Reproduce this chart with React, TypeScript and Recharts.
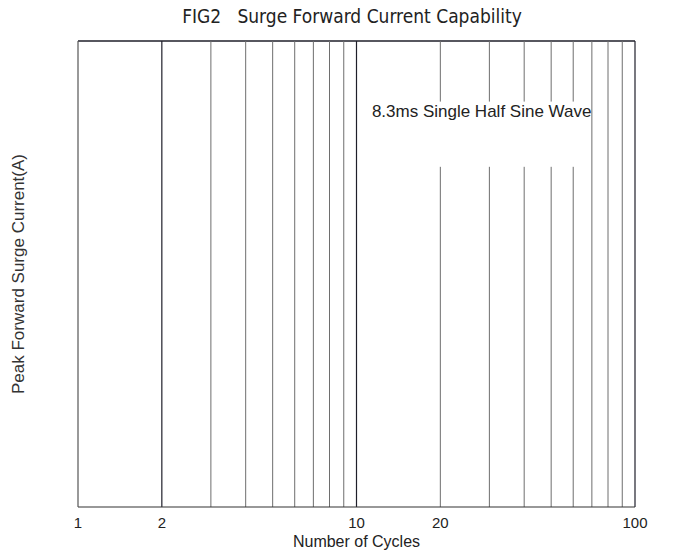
import React from 'react';
import { ComposedChart, XAxis, YAxis, ReferenceLine, ReferenceArea } from 'recharts';

const title = 'FIG2\u00a0\u00a0\u00a0Surge Forward Current Capability';
const xTickValues = [1, 2, 10, 20, 100];
const fullGridLines = [3, 4, 5, 6, 7, 8, 9, 70, 80, 90];
const darkGridLines = [2, 10, 100];
const brokenGridLines = [20, 30, 40, 50, 60];
const yDomain = [0, 100];
const noteGap = [73, 87];
const noteSpan = [12, 66];
const noteText = '8.3ms Single Half Sine Wave';
const xLabel = 'Number of Cycles';
const yLabel = 'Peak Forward Surge Current(A)';

const chartData = xTickValues.map((x) => ({ x }));

const DARK = '#1f1f2a';
const GREY = '#6e6e6e';
const FONT = "'Liberation Sans', Arial, sans-serif";

export default function App() {
  return (
    <div style={{ position: 'absolute', left: 0, top: 0, width: 675, height: 554, background: '#fff' }}>
      <div
        style={{
          position: 'absolute',
          left: 0,
          top: 5,
          width: 704,
          textAlign: 'center',
          fontFamily: "'Liberation Sans Narrow', 'DejaVu Sans Condensed', 'Liberation Sans', sans-serif",
          fontSize: 19,
          color: '#222',
          whiteSpace: 'pre',
        }}
      >
        {title}
      </div>
      <ComposedChart
        width={675}
        height={554}
        data={chartData}
        margin={{ top: 41, right: 40, left: 0, bottom: 0 }}
        style={{ position: 'absolute', left: 0, top: 0 }}
      >
        <XAxis
          dataKey="x"
          type="number"
          scale="log"
          domain={[1, 100]}
          allowDataOverflow
          ticks={xTickValues}
          interval={0}
          height={47}
          tickLine={false}
          tickMargin={4}
          axisLine={{ stroke: '#333', strokeWidth: 1.2 }}
          tick={{ fill: '#222', fontSize: 15, fontFamily: FONT }}
          label={{ value: xLabel, position: 'insideBottom', offset: 7, fill: '#222', fontSize: 16, fontFamily: FONT }}
        />
        <YAxis
          type="number"
          domain={yDomain}
          allowDataOverflow
          width={78}
          tick={false}
          tickLine={false}
          axisLine={{ stroke: '#555', strokeWidth: 1.2 }}
          label={{
            value: yLabel,
            angle: -90,
            position: 'insideLeft',
            offset: 18,
            fill: '#333',
            fontSize: 17,
            fontFamily: FONT,
            style: { textAnchor: 'middle' },
          }}
        />
        <ReferenceLine y={yDomain[1]} stroke={DARK} strokeWidth={1.3} ifOverflow="visible" />
        {fullGridLines.map((v) => (
          <ReferenceLine key={'f' + v} x={v} stroke={GREY} strokeWidth={1} />
        ))}
        {darkGridLines.map((v) => (
          <ReferenceLine key={'d' + v} x={v} stroke={DARK} strokeWidth={1.2} />
        ))}
        {brokenGridLines.map((v) => (
          <ReferenceLine
            key={'b1' + v}
            segment={[{ x: v, y: yDomain[0] }, { x: v, y: noteGap[0] }]}
            stroke={GREY}
            strokeWidth={1}
          />
        ))}
        {brokenGridLines.map((v) => (
          <ReferenceLine
            key={'b2' + v}
            segment={[{ x: v, y: noteGap[1] }, { x: v, y: yDomain[1] }]}
            stroke={GREY}
            strokeWidth={1}
          />
        ))}
        <ReferenceArea
          x1={noteSpan[0]}
          x2={noteSpan[1]}
          y1={noteGap[0]}
          y2={noteGap[1]}
          fill="none"
          stroke="none"
          label={{ value: noteText, position: 'insideTop', offset: 3, fill: '#222', fontSize: 17, fontFamily: FONT }}
        />
      </ComposedChart>
    </div>
  );
}
